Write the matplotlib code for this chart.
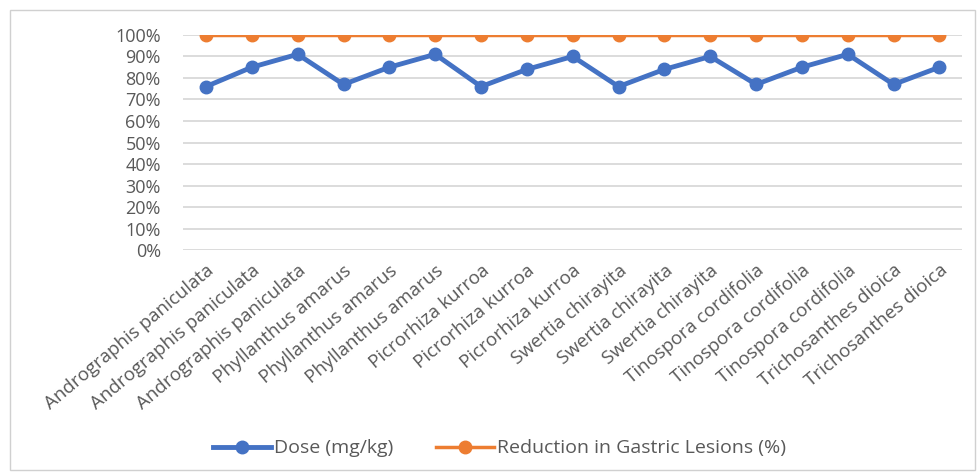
import matplotlib.pyplot as plt
from matplotlib.patches import Rectangle
from matplotlib.ticker import PercentFormatter

# Data:
plants = ['Andrographis paniculata', 'Andrographis paniculata', 'Andrographis paniculata',
          'Phyllanthus amarus', 'Phyllanthus amarus', 'Phyllanthus amarus',
          'Picrorhiza kurroa', 'Picrorhiza kurroa', 'Picrorhiza kurroa',
          'Swertia chirayita', 'Swertia chirayita', 'Swertia chirayita',
          'Tinospora cordifolia', 'Tinospora cordifolia', 'Tinospora cordifolia',
          'Trichosanthes dioica', 'Trichosanthes dioica']
dose = [0.76, 0.85, 0.91, 0.77, 0.85, 0.91, 0.76, 0.84, 0.90,
        0.76, 0.84, 0.90, 0.77, 0.85, 0.91, 0.77, 0.85]
reduction = [1.00] * 17

plt.rcParams['font.family'] = ['Open Sans', 'DejaVu Sans']

fig = plt.figure(figsize=(9.79, 4.72), dpi=100)
ax = fig.add_axes([0.187, 0.47, 0.796, 0.456])

# chart frame
fig.patches.append(Rectangle((10 / 979, 2 / 472), 965 / 979, 460 / 472, transform=fig.transFigure,
                             fill=False, edgecolor='#d0d0d0', linewidth=1))

x = range(len(plants))
ax.plot(x, dose, color='#4472C4', linewidth=3.5, marker='o', markersize=9, label='Dose (mg/kg)', zorder=3)
ax.plot(x, reduction, color='#ED7D31', linewidth=2.5, marker='o', markersize=9,
        label='Reduction in Gastric Lesions (%)', zorder=3)

ax.set_ylim(0, 1.0)
ax.set_yticks([i / 10 for i in range(11)])
ax.yaxis.set_major_formatter(PercentFormatter(1.0, decimals=0))
ax.set_xlim(-0.5, len(plants) - 0.5)
ax.set_xticks(list(x))
ax.set_xticklabels(plants, rotation=40, ha='right', rotation_mode='anchor', fontsize=13.5, color='#595959')
ax.tick_params(axis='y', labelsize=13, labelcolor='#595959', length=0, pad=16)
ax.tick_params(axis='x', length=0, pad=8)
ax.grid(axis='y', color='#d6d6d6', linewidth=1.2)
ax.set_axisbelow(True)
for s in ax.spines.values():
    s.set_visible(False)

fig.legend(loc='center', bbox_to_anchor=(0.51, 0.05), ncol=2, frameon=False, fontsize=14,
           handlelength=3.0, handletextpad=0.15, columnspacing=2.2, labelcolor='#595959')

plt.savefig('out.png', dpi=100)
